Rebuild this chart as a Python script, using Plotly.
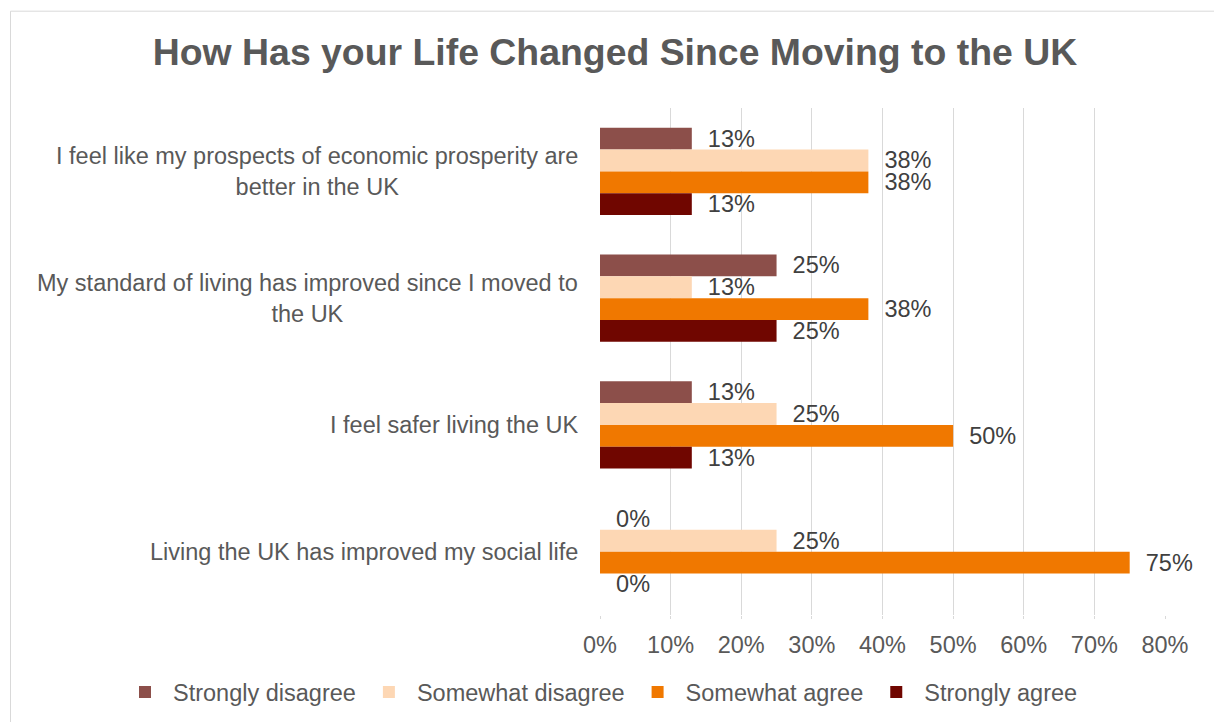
import plotly.graph_objects as go

# Survey statements (top to bottom) and response shares in percent
categories = [
    "I feel like my prospects of economic prosperity are better in the UK",
    "My standard of living has improved since I moved to the UK",
    "I feel safer living the UK",
    "Living the UK has improved my social life",
]
category_labels = [
    "I feel like my prospects of economic prosperity are<br>better in the UK",
    "My standard of living has improved since I moved to<br>the UK",
    "I feel safer living the UK",
    "Living the UK has improved my social life",
]
series_names = ["Strongly disagree", "Somewhat disagree", "Somewhat agree", "Strongly agree"]
strongly_disagree = [13, 25, 13, 0]
somewhat_disagree = [38, 13, 25, 25]
somewhat_agree = [38, 38, 50, 75]
strongly_agree = [13, 25, 13, 0]
x_ticks = [0, 10, 20, 30, 40, 50, 60, 70, 80]
x_tick_labels = ["0%", "10%", "20%", "30%", "40%", "50%", "60%", "70%", "80%"]

series_values = [strongly_disagree, somewhat_disagree, somewhat_agree, strongly_agree]
colors = ["#8C4F4A", "#FDD7B4", "#F07800", "#700600"]

FONT = "Liberation Sans, Arial, sans-serif"
GREY = "#595959"
FS = 23.5
W, H = 1214, 722
L, R, T, B = 600, 1165, 107.5, 615.5

fig = go.Figure()
for name, vals, col in zip(series_names, series_values, colors):
    fig.add_trace(go.Bar(
        y=categories, x=vals, name=name, orientation="h",
        marker=dict(color=col, line=dict(width=0)),
        texttemplate="\u00a0\u00a0%{x:.0f}%", textposition="outside",
        constraintext="none", cliponaxis=False,
        textfont=dict(family=FONT, size=FS, color="#404040"),
        hoverinfo="skip",
    ))

def px_x(p):
    return (p - L) / (R - L)

def px_y(p):
    return (B - p) / (B - T)

# Category labels: centred multi-line blocks, right-aligned to the axis
for cat, lab in zip(categories, category_labels):
    fig.add_annotation(
        x=px_x(580), xref="paper", y=cat, yref="y",
        text=lab, showarrow=False, xanchor="right", yanchor="middle",
        align="center", font=dict(family=FONT, size=FS, color=GREY),
    )

# Chart-area border
fig.add_shape(type="rect", xref="paper", yref="paper",
              x0=px_x(10.5), x1=px_x(1230), y0=px_y(10.5), y1=px_y(740),
              line=dict(color="#D9D9D9", width=1), fillcolor="rgba(0,0,0,0)",
              layer="below")

fig.update_layout(
    width=W, height=H,
    margin=dict(l=L, r=W - R, t=T, b=H - B, pad=0, autoexpand=False),
    paper_bgcolor="white", plot_bgcolor="white",
    barmode="group", bargap=0.31, bargroupgap=0,
    title=dict(text="<b>How Has your Life Changed Since Moving to the UK</b>",
               x=615 / W, xref="container", xanchor="center",
               y=1 - 52 / H, yref="container", yanchor="middle",
               font=dict(family=FONT, size=37.4, color=GREY)),
    font=dict(family=FONT, size=FS, color=GREY),
    xaxis=dict(range=[0, 80], tickvals=x_ticks, ticktext=x_tick_labels,
               showgrid=True, gridcolor="#D9D9D9", gridwidth=1,
               zeroline=False, showline=False,
               ticks="outside", ticklen=3, tickcolor="#D9D9D9",
               ticklabelstandoff=6,
               tickfont=dict(family=FONT, size=FS, color=GREY)),
    yaxis=dict(autorange="reversed", showticklabels=False, showgrid=False,
               zeroline=False, showline=False),
    legend=dict(orientation="h", xref="paper", x=px_x(117), xanchor="left",
                yref="paper", y=px_y(693), yanchor="middle",
                bgcolor="rgba(0,0,0,0)",
                font=dict(family=FONT, size=FS, color=GREY),
                traceorder="normal", itemwidth=46),
    showlegend=True,
)

fig.write_html("out.html")
